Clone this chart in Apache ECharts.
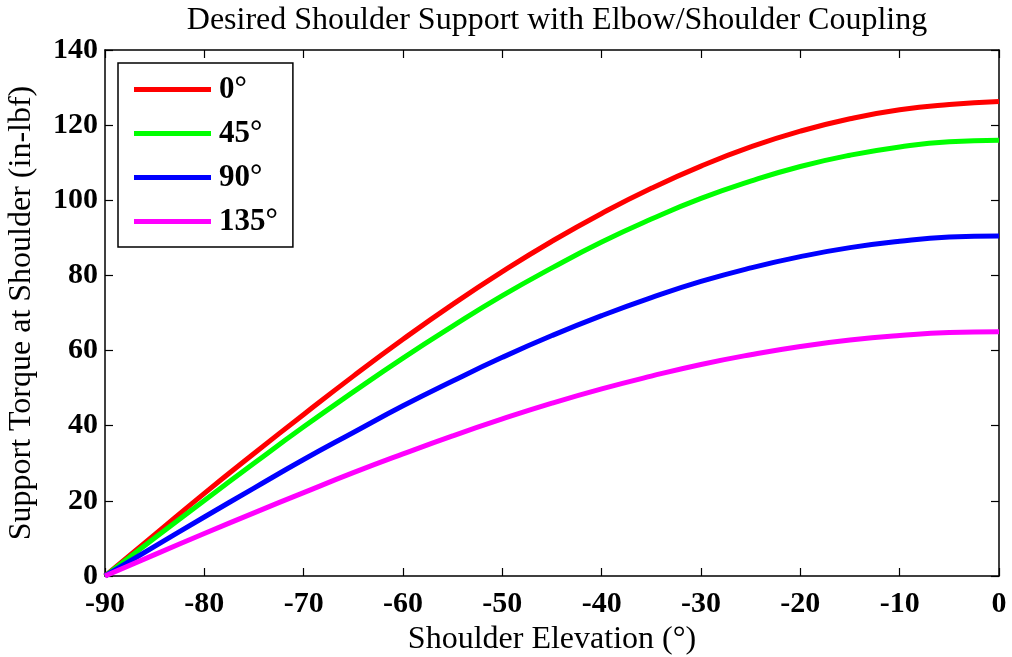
<!DOCTYPE html>
<html>
<head>
<meta charset="utf-8">
<script src="https://cdn.jsdelivr.net/npm/echarts@6/dist/echarts.min.js"></script>
<style>
  html, body { margin: 0; padding: 0; background: #fff; }
  #chart { width: 1012px; height: 657px; }
</style>
</head>
<body>
<div id="chart"></div>
<script>
  // shoulder elevation (deg)
  const elevation = [-90, -85, -80, -75, -70, -65, -60, -55, -50, -45, -40, -35, -30, -25, -20, -15, -10, -5, 0]
  // support torque (in-lbf), one list per elbow angle
  const torque0 = [0, 11, 22, 32.6, 43, 53.2, 63, 72.3, 81, 89.1, 96.5, 103.2, 109.1, 114.2, 118.4, 121.7, 124.1, 125.5, 126.3]
  const torque45 = [0, 10.1, 20.1, 30, 39.7, 49, 58, 66.5, 74.6, 82, 88.9, 95, 100.5, 105.1, 109, 112, 114.2, 115.6, 116]
  const torque90 = [0, 7.9, 15.7, 23.4, 31, 38.2, 45.3, 51.9, 58.2, 64, 69.3, 74.1, 78.4, 82, 85, 87.4, 89.1, 90.2, 90.5]
  const torque135 = [0, 5.7, 11.3, 16.8, 22.2, 27.5, 32.5, 37.3, 41.8, 46, 49.8, 53.2, 56.3, 58.9, 61.1, 62.8, 64, 64.8, 65]
  const seriesNames = ['0°', '45°', '90°', '135°']
  const seriesColors = ['#ff0000', '#00ff00', '#0000ff', '#ff00ff']

  const font = 'Liberation Serif'
  const allData = [torque0, torque45, torque90, torque135]

  let seriesData = []
  for (let i = 0; i < allData.length; i++) {
    seriesData.push({
      name: seriesNames[i],
      type: 'line',
      smooth: true,
      symbol: 'none',
      xAxisIndex: 0,
      yAxisIndex: 0,
      lineStyle: {color: seriesColors[i], width: 5},
      itemStyle: {color: seriesColors[i]},
      data: elevation.map((x, j) => [x, allData[i][j]])
    })
  }

  const axisLine = {show: true, onZero: false, lineStyle: {color: '#000', width: 1.5}}
  const tickIn = {show: true, inside: true, length: 8, lineStyle: {color: '#000', width: 1.2}}
  const tickText = {fontFamily: font, fontSize: 30, fontWeight: 'bold', color: '#000'}

  let option = {
    animation: false,
    title: {
      text: 'Desired Shoulder Support with Elbow/Shoulder Coupling',
      left: 552,
      textAlign: 'center',
      top: 0,
      textStyle: {fontFamily: font, fontSize: 32, fontWeight: 'normal', color: '#000'}
    },
    legend: {
      orient: 'vertical',
      left: 118,
      top: 63,
      padding: [11, 15, 10, 16],
      itemWidth: 77,
      itemHeight: 5,
      itemGap: 13,
      icon: 'rect',
      borderColor: '#000',
      borderWidth: 1.5,
      backgroundColor: '#fff',
      textStyle: {fontFamily: font, fontSize: 31, fontWeight: 'bold', color: '#000', padding: [0, 0, 0, 3]},
      data: seriesNames
    },
    grid: {left: 105, right: 13, top: 50, bottom: 81, containLabel: false, outerBoundsMode: 'none'},
    xAxis: [{
      type: 'value',
      min: -90,
      max: 0,
      interval: 10,
      name: 'Shoulder Elevation (°)',
      nameLocation: 'middle',
      nameGap: 43,
      nameTextStyle: {fontFamily: font, fontSize: 32, color: '#000'},
      axisLine: axisLine,
      axisTick: tickIn,
      axisLabel: Object.assign({margin: 13}, tickText),
      splitLine: {show: false}
    }, {
      type: 'value',
      position: 'top',
      min: -90,
      max: 0,
      interval: 10,
      axisLine: axisLine,
      axisTick: tickIn,
      axisLabel: {show: false},
      splitLine: {show: false}
    }],
    yAxis: [{
      type: 'value',
      min: 0,
      max: 140,
      interval: 20,
      name: 'Support Torque at Shoulder (in-lbf)',
      nameLocation: 'middle',
      nameGap: 67,
      nameTextStyle: {fontFamily: font, fontSize: 32, color: '#000'},
      axisLine: axisLine,
      axisTick: tickIn,
      axisLabel: Object.assign({margin: 7}, tickText),
      splitLine: {show: false}
    }, {
      type: 'value',
      position: 'right',
      min: 0,
      max: 140,
      interval: 20,
      axisLine: axisLine,
      axisTick: tickIn,
      axisLabel: {show: false},
      splitLine: {show: false}
    }],
    series: seriesData
  }

  let chart = echarts.init(document.getElementById('chart'))
  chart.setOption(option)
</script>
</body>
</html>
